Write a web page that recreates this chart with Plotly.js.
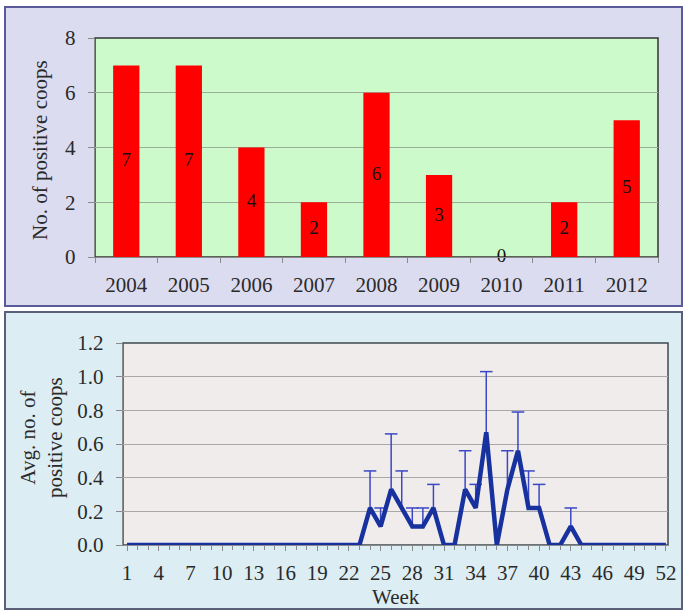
<!DOCTYPE html>
<html>
<head>
<meta charset="utf-8">
<script src="https://cdn.plot.ly/plotly-3.0.1.min.js"></script>
<style>html,body{margin:0;padding:0;background:#fff;}#chart{width:684px;height:612px;}</style>
</head>
<body>
<div id="chart"></div>
<script>
// ---- Top chart data ----
const years = ['2004','2005','2006','2007','2008','2009','2010','2011','2012'];
const positiveCoops = [7, 7, 4, 2, 6, 3, 0, 2, 5];

// ---- Bottom chart data ----
const weeks = [1,2,3,4,5,6,7,8,9,10,11,12,13,14,15,16,17,18,19,20,21,22,23,24,25,26,
               27,28,29,30,31,32,33,34,35,36,37,38,39,40,41,42,43,44,45,46,47,48,49,50,51,52];
const avgPositive = [0,0,0,0,0,0,0,0,0,0,0,0,0,0,0,0,0,0,0,0,0,0,0,
                     0.22,0.11,0.33,0.22,0.11,0.11,0.22,0,0,0.33,0.22,0.67,0,0.33,0.56,0.22,0.22,0,0,0.11,
                     0,0,0,0,0,0,0,0,0];
const errPlus = [null,null,null,null,null,null,null,null,null,null,null,null,null,null,null,null,null,null,null,null,null,null,null,
                 0.22,0.11,0.33,0.22,0.11,0.11,0.14,null,null,0.23,0.14,0.36,null,0.23,0.23,0.22,0.14,null,null,0.11,
                 null,null,null,null,null,null,null,null,null];
const weekTickLabels = ['1','4','7','10','13','16','19','22','25','28','31','34','37','40','43','46','49','52'];
const yTicksTop = [0, 2, 4, 6, 8];
const yTicksBottom = [0, 0.2, 0.4, 0.6, 0.8, 1.0, 1.2];

const W = 684, H = 612;
const px = v => v / W;
const py = v => 1 - v / H;

const FONT = 'Liberation Serif, Times New Roman, serif';
const TXT = '#2a2a2a';
const FS = 21;

const barLabelY = positiveCoops.map(v => v / 2);
const weekTickVals = weekTickLabels.map(Number);
const errMinus = errPlus.map(e => (e === null ? null : 0));
const errTop = avgPositive.map((v, i) => (errPlus[i] === null ? null : v + errPlus[i]));

const traces = [
  {
    type: 'bar', x: years, y: positiveCoops, xaxis: 'x', yaxis: 'y',
    marker: {color: '#ff0000', line: {width: 0}}, hoverinfo: 'x+y'
  },
  {
    type: 'scatter', mode: 'text', x: years, y: barLabelY, xaxis: 'x', yaxis: 'y',
    text: positiveCoops.map(String), textposition: 'middle center',
    textfont: {family: FONT, size: 19, color: '#111'}, cliponaxis: false, hoverinfo: 'skip'
  },
  // error bars (stem only), drawn beneath the line
  {
    type: 'scatter', mode: 'none', x: weeks, y: avgPositive, xaxis: 'x2', yaxis: 'y2',
    error_y: {type: 'data', symmetric: false, array: errPlus, arrayminus: errMinus,
              color: '#3a48c4', thickness: 1.5, width: 0, visible: true},
    hoverinfo: 'skip'
  },
  // error bar caps
  {
    type: 'scatter', mode: 'markers', x: weeks, y: errTop, xaxis: 'x2', yaxis: 'y2',
    marker: {symbol: 'line-ew', size: 9, line: {color: '#3a48c4', width: 1.5}},
    cliponaxis: false, hoverinfo: 'skip'
  },
  {
    type: 'scatter', mode: 'lines', x: weeks, y: avgPositive, xaxis: 'x2', yaxis: 'y2',
    line: {color: '#17329e', width: 4.5}, cliponaxis: false
  }
];

const tickFont = {family: FONT, size: FS, color: TXT};

const layout = {
  width: W, height: H, autosize: false,
  margin: {l: 0, r: 0, t: 0, b: 0, pad: 0},
  paper_bgcolor: '#ffffff', plot_bgcolor: 'rgba(0,0,0,0)',
  showlegend: false,
  font: {family: FONT, size: FS, color: TXT},
  bargap: 0.58,
  xaxis: {
    domain: [px(95), px(658)], anchor: 'y', type: 'category',
    showline: true, linecolor: '#8a8a8a', linewidth: 1.2,
    ticks: 'outside', tickson: 'boundaries', ticklen: 5, tickcolor: '#8a8a8a',
    ticklabelstandoff: 9, showgrid: false, zeroline: false, tickfont: tickFont
  },
  yaxis: {
    domain: [py(257), py(38)], anchor: 'x', range: [0, 8],
    tickvals: yTicksTop, showline: true, linecolor: '#8a8a8a', linewidth: 1.2,
    ticks: 'outside', ticklen: 6, tickcolor: '#8a8a8a', ticklabelstandoff: 8,
    showgrid: true, gridcolor: '#9aae9a', gridwidth: 1, zeroline: false, tickfont: tickFont
  },
  xaxis2: {
    domain: [px(123), px(668)], anchor: 'y2', type: 'linear', range: [0.62, 52.2],
    tickvals: weekTickVals, ticktext: weekTickLabels,
    showline: true, linecolor: '#8a8a8a', linewidth: 1.2,
    ticks: 'outside', ticklen: 5, tickcolor: '#8a8a8a', ticklabelstandoff: 4,
    minor: {ticks: 'outside', dtick: 1, tick0: 1, ticklen: 4, tickcolor: '#8a8a8a', showgrid: false},
    showgrid: false, zeroline: false, tickfont: tickFont
  },
  yaxis2: {
    domain: [py(545), py(343)], anchor: 'x2', range: [0, 1.2],
    tickvals: yTicksBottom, tickformat: '.1f',
    showline: true, linecolor: '#8a8a8a', linewidth: 1.2,
    ticks: 'outside', ticklen: 6, tickcolor: '#8a8a8a', ticklabelstandoff: 8,
    showgrid: true, gridcolor: '#a8a8a8', gridwidth: 1, zeroline: false, tickfont: tickFont
  },
  shapes: [
    // outer panels
    {type: 'rect', xref: 'paper', yref: 'paper', x0: px(5), x1: px(682), y0: py(306), y1: py(7),
     fillcolor: '#dcdcf0', line: {color: '#5a5a9a', width: 2}, layer: 'below'},
    {type: 'rect', xref: 'paper', yref: 'paper', x0: px(5), x1: px(682), y0: py(609), y1: py(312),
     fillcolor: '#dcedf3', line: {color: '#5a6078', width: 2}, layer: 'below'},
    // plot backgrounds
    {type: 'rect', xref: 'paper', yref: 'paper', x0: px(95), x1: px(658), y0: py(257), y1: py(38),
     fillcolor: '#cdfacb', line: {color: '#333', width: 1.5}, layer: 'below'},
    {type: 'rect', xref: 'paper', yref: 'paper', x0: px(123), x1: px(668), y0: py(545), y1: py(343),
     fillcolor: '#f1ecec', line: {color: '#3c4a50', width: 1.5}, layer: 'below'}
  ],
  annotations: [
    {xref: 'paper', yref: 'paper', x: px(40), y: py(150), text: 'No. of positive coops',
     textangle: -90, showarrow: false, font: {family: FONT, size: FS, color: TXT},
     xanchor: 'center', yanchor: 'middle'},
    {xref: 'paper', yref: 'paper', x: px(41), y: py(438), text: 'Avg. no. of<br>positive coops',
     textangle: -90, showarrow: false, font: {family: FONT, size: FS, color: TXT},
     xanchor: 'center', yanchor: 'middle'},
    {xref: 'paper', yref: 'paper', x: px(396), y: py(597), text: 'Week',
     showarrow: false, font: {family: FONT, size: FS, color: TXT},
     xanchor: 'center', yanchor: 'middle'}
  ]
};

Plotly.newPlot('chart', traces, layout, {displayModeBar: false, staticPlot: true});
</script>
</body>
</html>
